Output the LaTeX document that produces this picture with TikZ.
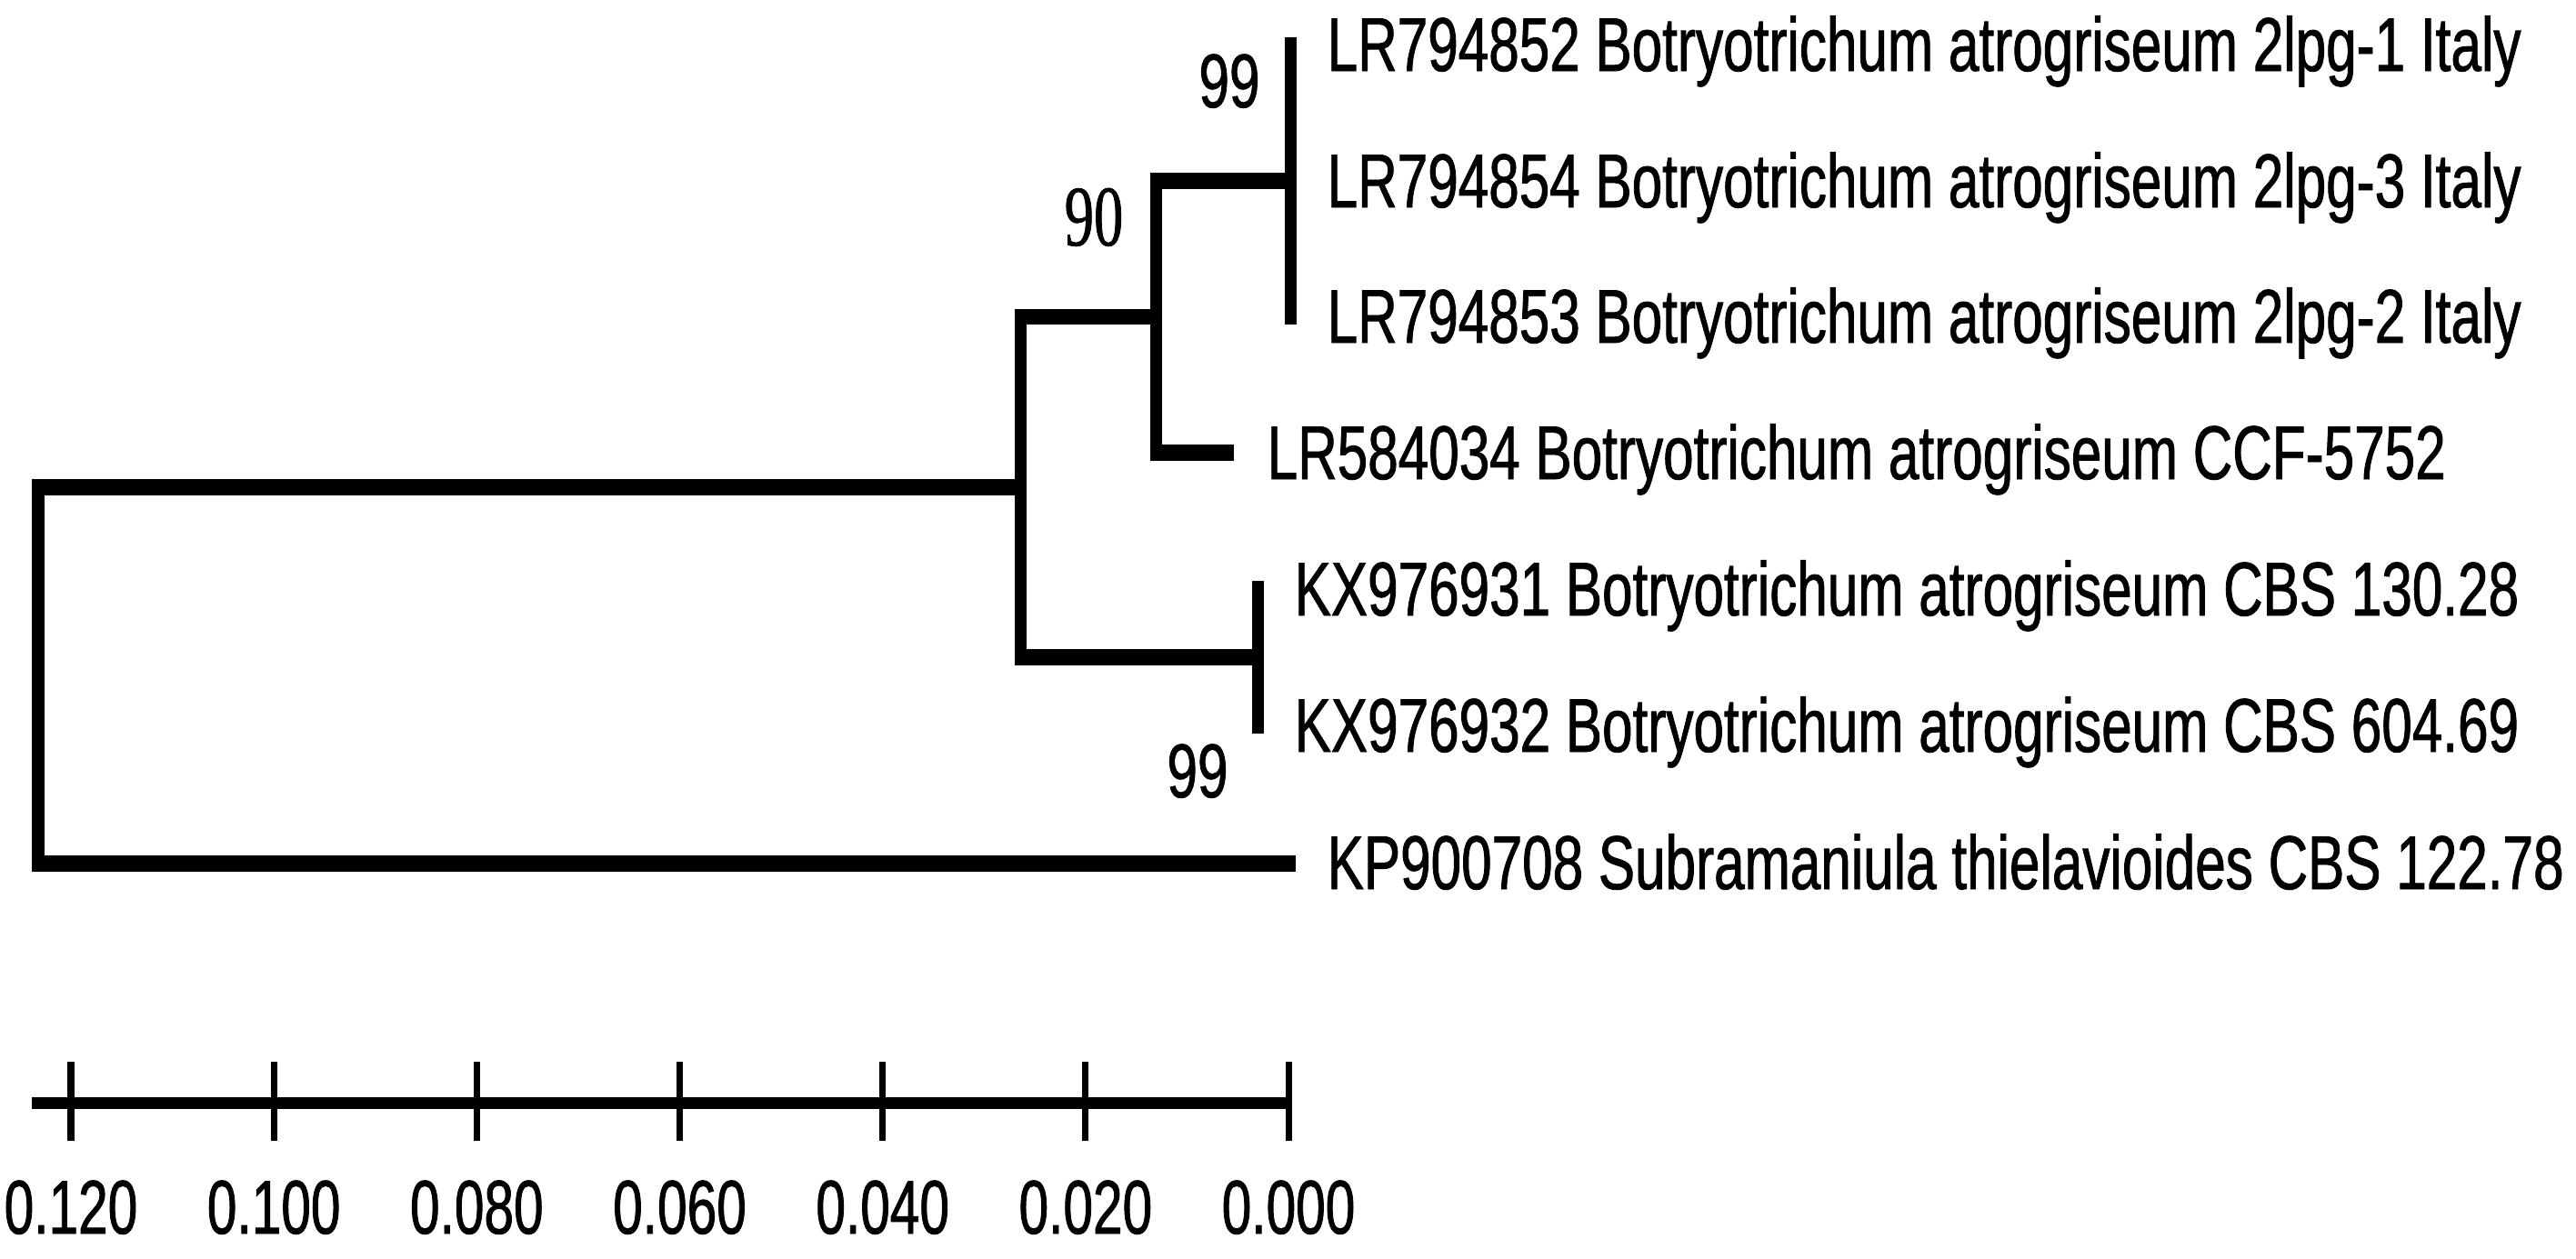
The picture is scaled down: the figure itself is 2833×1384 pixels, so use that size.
\documentclass[tikz,border=0pt]{standalone}
\usepackage{fontspec}
\newfontfamily\labfont[FakeStretch=0.72,FakeBold=1]{Liberation Sans}
\newfontfamily\tickfont[FakeStretch=0.70,FakeBold=1]{Liberation Sans}
\newfontfamily\bsfont[FakeStretch=0.68,FakeBold=0.8]{Liberation Serif}
\begin{document}
\begin{tikzpicture}[x=0.01cm,y=-0.01cm,
  hbr/.style={line width=5.1pt, line cap=butt, shorten <=-0.065cm},
  vbr/.style={line width=3.7pt, line cap=butt, shorten <=-0.09cm, shorten >=-0.09cm},
  leaflab/.style={anchor=base west, inner sep=0pt, font=\labfont\fontsize{23.8}{28}\selectfont},
  boot/.style={anchor=base, inner sep=0pt, font=\labfont\fontsize{23.8}{28}\selectfont},
  bootserif/.style={anchor=base, inner sep=0pt, font=\bsfont\fontsize{27}{32}\selectfont},
  ticklab/.style={anchor=base, inner sep=0pt, font=\tickfont\fontsize{23.8}{28}\selectfont},
  tickmark/.style={line width=2pt, line cap=butt},
  bar/.style={line width=3.7pt, line cap=butt}]
\useasboundingbox (0,0) rectangle (2833,1384);
% tree coordinates
\coordinate (R1) at (42,536);
\coordinate (R2) at (42,950);
\coordinate (A)  at (1122,536);
\coordinate (A1) at (1122,348.5);
\coordinate (A2) at (1122,723);
\coordinate (B)  at (1271,348.5);
\coordinate (B1) at (1271,199);
\coordinate (B2) at (1271,498);
\coordinate (C)  at (1419,199);
\coordinate (C1) at (1419,50);
\coordinate (C3) at (1419,348);
\coordinate (D)  at (1383,723);
\coordinate (D1) at (1383,648);
\coordinate (D2) at (1383,798);
\coordinate (T4) at (1357,498);
\coordinate (T7) at (1425,950);
% branches
\draw[vbr] (R1) -- (R2);
\draw[hbr] (R1) -- (A);
\draw[hbr] (R2) -- (T7);
\draw[vbr] (A1) -- (A2);
\draw[hbr] (A1) -- (B);
\draw[hbr] (A2) -- (D);
\draw[vbr] (B1) -- (B2);
\draw[hbr] (B1) -- (C);
\draw[hbr] (B2) -- (T4);
\draw[vbr] (C1) -- (C3);
\draw[vbr] (D1) -- (D2);
% leaf labels
\node[leaflab] (L1) at (1459,78) {LR794852 Botryotrichum atrogriseum 2lpg-1 Italy};
\node[leaflab] (L2) at (1459,228) {LR794854 Botryotrichum atrogriseum 2lpg-3 Italy};
\node[leaflab] (L3) at (1459,377) {LR794853 Botryotrichum atrogriseum 2lpg-2 Italy};
\node[leaflab] (L4) at (1393,527) {LR584034 Botryotrichum atrogriseum CCF-5752};
\node[leaflab] (L5) at (1423,677) {KX976931 Botryotrichum atrogriseum CBS 130.28};
\node[leaflab] (L6) at (1423,827) {KX976932 Botryotrichum atrogriseum CBS 604.69};
\node[leaflab] (L7) at (1459,978) {KP900708 Subramaniula thielavioides CBS 122.78};
% bootstrap values
\node[boot] (b1) at (1352,118) {99};
\node[bootserif] (b2) at (1203,270) {90};
\node[boot] (b3) at (1317,877) {99};
% scale bar
\coordinate (S0) at (35,1213);
\coordinate (S1) at (1418,1213);
\draw[bar] (S0) -- (S1);
\foreach \i/\lab in {0/0.120,1/0.100,2/0.080,3/0.060,4/0.040,5/0.020,6/0.000}{
  \draw[tickmark] ({78+223.17*\i},1168) -- ({78+223.17*\i},1255);
  \node[ticklab] (t\i) at ({78+223.17*\i},1357) {\lab};
}
\end{tikzpicture}
\end{document}
